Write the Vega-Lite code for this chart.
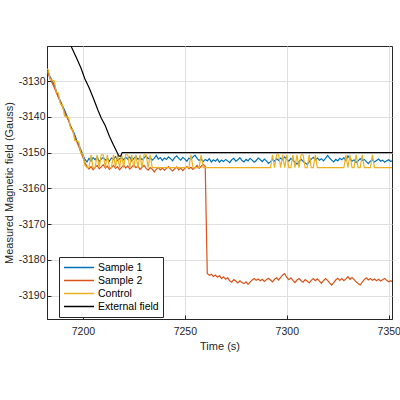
{
  "$schema": "https://vega.github.io/schema/vega-lite/v6.json",
  "width": 345,
  "height": 273,
  "autosize": {"type": "none"},
  "padding": {"left": 47, "top": 46, "right": 8, "bottom": 81},
  "background": "white",
  "config": {
    "view": {"stroke": "#262626", "strokeWidth": 1},
    "axis": {
      "domainColor": "#262626",
      "tickColor": "#262626",
      "labelColor": "#262626",
      "titleColor": "#262626",
      "labelFont": "Liberation Sans",
      "titleFont": "Liberation Sans",
      "labelFontSize": 10.5,
      "titleFontSize": 11,
      "titleFontWeight": "normal",
      "gridColor": "#DFDFDF",
      "tickSize": -4,
      "labelPadding": 6
    },
    "legend": {
      "labelFont": "Liberation Sans",
      "labelFontSize": 10.5,
      "labelColor": "#000000"
    }
  },
  "data": {
    "values": [
      {"t": 7182, "s1": -3127.0, "s2": -3126.8, "c": -3126.5},
      {"t": 7183, "s1": -3127.5, "s2": -3128.0, "c": -3126.8},
      {"t": 7184, "s1": -3128.9, "s2": -3129.4, "c": -3129.5},
      {"t": 7185, "s1": -3130.0, "s2": -3130.6, "c": -3129.8},
      {"t": 7186, "s1": -3131.2, "s2": -3131.9, "c": -3130.0},
      {"t": 7187, "s1": -3132.8, "s2": -3133.3, "c": -3133.2},
      {"t": 7188, "s1": -3134.4, "s2": -3134.6, "c": -3133.4},
      {"t": 7189, "s1": -3135.6, "s2": -3136.0, "c": -3136.5},
      {"t": 7190, "s1": -3136.9, "s2": -3137.2, "c": -3136.7},
      {"t": 7191, "s1": -3138.1, "s2": -3138.8, "c": -3139.8},
      {"t": 7192, "s1": -3139.5, "s2": -3140.0, "c": -3140.0},
      {"t": 7193, "s1": -3141.0, "s2": -3141.1, "c": -3140.2},
      {"t": 7194, "s1": -3142.6, "s2": -3142.8, "c": -3143.3},
      {"t": 7195, "s1": -3143.7, "s2": -3144.0, "c": -3143.5},
      {"t": 7196, "s1": -3145.0, "s2": -3145.6, "c": -3146.6},
      {"t": 7197, "s1": -3146.6, "s2": -3147.0, "c": -3146.8},
      {"t": 7198, "s1": -3147.8, "s2": -3148.3, "c": -3147.0},
      {"t": 7199, "s1": -3149.2, "s2": -3149.9, "c": -3150.2},
      {"t": 7200, "s1": -3150.6, "s2": -3151.3, "c": -3150.4},
      {"t": 7201, "s1": -3151.9, "s2": -3152.8, "c": -3153.6},
      {"t": 7202, "s1": -3152.6, "s2": -3153.9, "c": -3154.2},
      {"t": 7203, "s1": -3151.6, "s2": -3154.6, "c": -3154.2},
      {"t": 7204, "s1": -3152.3, "s2": -3153.9, "c": -3150.6},
      {"t": 7205, "s1": -3151.4, "s2": -3154.8, "c": -3154.2},
      {"t": 7206, "s1": -3152.0, "s2": -3154.1, "c": -3154.2},
      {"t": 7207, "s1": -3151.2, "s2": -3153.6, "c": -3150.6},
      {"t": 7208, "s1": -3152.5, "s2": -3154.5, "c": -3154.2},
      {"t": 7209, "s1": -3151.8, "s2": -3154.0, "c": -3150.6},
      {"t": 7210, "s1": -3151.3, "s2": -3153.4, "c": -3150.6},
      {"t": 7211, "s1": -3152.1, "s2": -3154.3, "c": -3154.2},
      {"t": 7212, "s1": -3151.6, "s2": -3153.8, "c": -3150.6},
      {"t": 7213, "s1": -3152.4, "s2": -3154.7, "c": -3154.2},
      {"t": 7214, "s1": -3151.5, "s2": -3154.2, "c": -3154.2},
      {"t": 7215, "s1": -3151.9, "s2": -3153.6, "c": -3150.6},
      {"t": 7216, "s1": -3151.1, "s2": -3154.4, "c": -3154.2},
      {"t": 7217, "s1": -3152.2, "s2": -3153.9, "c": -3150.6},
      {"t": 7218, "s1": -3151.7, "s2": -3154.8, "c": -3154.2},
      {"t": 7219, "s1": -3151.4, "s2": -3154.1, "c": -3150.6},
      {"t": 7220, "s1": -3152.0, "s2": -3153.5, "c": -3154.2},
      {"t": 7221, "s1": -3151.3, "s2": -3154.3, "c": -3150.6},
      {"t": 7222, "s1": -3151.8, "s2": -3153.7, "c": -3150.6},
      {"t": 7223, "s1": -3151.2, "s2": -3154.6, "c": -3154.2},
      {"t": 7224, "s1": -3152.3, "s2": -3154.0, "c": -3150.6},
      {"t": 7225, "s1": -3151.6, "s2": -3153.4, "c": -3154.2},
      {"t": 7226, "s1": -3151.0, "s2": -3154.2, "c": -3150.6},
      {"t": 7227, "s1": -3151.9, "s2": -3153.8, "c": -3154.2},
      {"t": 7228, "s1": -3151.4, "s2": -3154.7, "c": -3150.6},
      {"t": 7229, "s1": -3152.0, "s2": -3154.1, "c": -3154.2},
      {"t": 7230, "s1": -3151.5, "s2": -3153.6, "c": -3150.6},
      {"t": 7231, "s1": -3150.9, "s2": -3154.4, "c": -3150.6},
      {"t": 7232, "s1": -3151.7, "s2": -3154.9, "c": -3154.2},
      {"t": 7233, "s1": -3151.3, "s2": -3154.2, "c": -3150.6},
      {"t": 7234, "s1": -3152.1, "s2": -3154.6, "c": -3154.2},
      {"t": 7235, "s1": -3151.6, "s2": -3155.4, "c": -3154.2},
      {"t": 7236, "s1": -3150.8, "s2": -3154.7, "c": -3154.2},
      {"t": 7237, "s1": -3151.8, "s2": -3154.1, "c": -3154.2},
      {"t": 7238, "s1": -3151.4, "s2": -3154.8, "c": -3154.2},
      {"t": 7239, "s1": -3152.2, "s2": -3154.3, "c": -3154.2},
      {"t": 7240, "s1": -3151.5, "s2": -3154.9, "c": -3154.2},
      {"t": 7241, "s1": -3151.9, "s2": -3154.4, "c": -3154.2},
      {"t": 7242, "s1": -3151.2, "s2": -3153.9, "c": -3154.2},
      {"t": 7243, "s1": -3151.7, "s2": -3154.6, "c": -3154.2},
      {"t": 7244, "s1": -3152.3, "s2": -3155.1, "c": -3154.2},
      {"t": 7245, "s1": -3151.4, "s2": -3154.5, "c": -3154.2},
      {"t": 7246, "s1": -3150.9, "s2": -3154.0, "c": -3154.2},
      {"t": 7247, "s1": -3151.6, "s2": -3154.8, "c": -3154.2},
      {"t": 7248, "s1": -3152.1, "s2": -3154.3, "c": -3154.2},
      {"t": 7249, "s1": -3151.3, "s2": -3155.0, "c": -3154.2},
      {"t": 7250, "s1": -3151.8, "s2": -3154.4, "c": -3154.2},
      {"t": 7251, "s1": -3152.4, "s2": -3153.9, "c": -3154.2},
      {"t": 7252, "s1": -3151.5, "s2": -3154.5, "c": -3154.2},
      {"t": 7253, "s1": -3151.9, "s2": -3154.1, "c": -3150.6},
      {"t": 7254, "s1": -3151.2, "s2": -3154.7, "c": -3154.2},
      {"t": 7255, "s1": -3150.7, "s2": -3154.2, "c": -3154.2},
      {"t": 7256, "s1": -3151.6, "s2": -3153.6, "c": -3154.2},
      {"t": 7257, "s1": -3152.2, "s2": -3154.4, "c": -3154.2},
      {"t": 7258, "s1": -3151.8, "s2": -3153.8, "c": -3150.6},
      {"t": 7259, "s1": -3152.5, "s2": -3153.3, "c": -3154.2},
      {"t": 7260, "s1": -3151.9, "s2": -3153.9, "c": -3154.2},
      {"t": 7261, "s1": -3152.3, "s2": -3183.8, "c": -3154.2},
      {"t": 7262, "s1": -3151.7, "s2": -3184.3, "c": -3154.2},
      {"t": 7263, "s1": -3152.6, "s2": -3184.0, "c": -3154.2},
      {"t": 7264, "s1": -3152.0, "s2": -3184.6, "c": -3154.2},
      {"t": 7265, "s1": -3152.4, "s2": -3184.2, "c": -3154.2},
      {"t": 7266, "s1": -3151.8, "s2": -3184.8, "c": -3154.2},
      {"t": 7267, "s1": -3152.7, "s2": -3184.4, "c": -3154.2},
      {"t": 7268, "s1": -3152.1, "s2": -3185.2, "c": -3154.2},
      {"t": 7269, "s1": -3152.5, "s2": -3184.7, "c": -3154.2},
      {"t": 7270, "s1": -3151.9, "s2": -3185.4, "c": -3154.2},
      {"t": 7271, "s1": -3152.3, "s2": -3185.0, "c": -3154.2},
      {"t": 7272, "s1": -3152.8, "s2": -3185.8, "c": -3154.2},
      {"t": 7273, "s1": -3152.0, "s2": -3186.2, "c": -3154.2},
      {"t": 7274, "s1": -3151.6, "s2": -3185.5, "c": -3154.2},
      {"t": 7275, "s1": -3152.4, "s2": -3185.9, "c": -3154.2},
      {"t": 7276, "s1": -3152.0, "s2": -3186.4, "c": -3154.2},
      {"t": 7277, "s1": -3151.4, "s2": -3185.8, "c": -3154.2},
      {"t": 7278, "s1": -3152.2, "s2": -3186.3, "c": -3154.2},
      {"t": 7279, "s1": -3152.6, "s2": -3186.6, "c": -3154.2},
      {"t": 7280, "s1": -3151.9, "s2": -3186.1, "c": -3154.2},
      {"t": 7281, "s1": -3152.3, "s2": -3186.8, "c": -3154.2},
      {"t": 7282, "s1": -3151.6, "s2": -3186.2, "c": -3154.2},
      {"t": 7283, "s1": -3152.1, "s2": -3185.6, "c": -3154.2},
      {"t": 7284, "s1": -3152.7, "s2": -3185.2, "c": -3154.2},
      {"t": 7285, "s1": -3152.2, "s2": -3185.7, "c": -3154.2},
      {"t": 7286, "s1": -3151.5, "s2": -3185.3, "c": -3154.2},
      {"t": 7287, "s1": -3152.0, "s2": -3185.8, "c": -3154.2},
      {"t": 7288, "s1": -3152.5, "s2": -3185.4, "c": -3154.2},
      {"t": 7289, "s1": -3151.8, "s2": -3186.0, "c": -3154.2},
      {"t": 7290, "s1": -3152.3, "s2": -3185.5, "c": -3154.2},
      {"t": 7291, "s1": -3153.0, "s2": -3185.1, "c": -3154.2},
      {"t": 7292, "s1": -3152.6, "s2": -3185.6, "c": -3154.2},
      {"t": 7293, "s1": -3151.9, "s2": -3186.1, "c": -3150.6},
      {"t": 7294, "s1": -3152.4, "s2": -3185.4, "c": -3154.2},
      {"t": 7295, "s1": -3151.7, "s2": -3185.0, "c": -3150.6},
      {"t": 7296, "s1": -3152.2, "s2": -3185.6, "c": -3150.6},
      {"t": 7297, "s1": -3151.5, "s2": -3184.9, "c": -3154.2},
      {"t": 7298, "s1": -3152.0, "s2": -3184.2, "c": -3150.6},
      {"t": 7299, "s1": -3151.2, "s2": -3183.8, "c": -3154.2},
      {"t": 7300, "s1": -3151.8, "s2": -3184.9, "c": -3150.6},
      {"t": 7301, "s1": -3152.4, "s2": -3185.5, "c": -3154.2},
      {"t": 7302, "s1": -3151.6, "s2": -3185.0, "c": -3154.2},
      {"t": 7303, "s1": -3152.1, "s2": -3185.7, "c": -3150.6},
      {"t": 7304, "s1": -3152.7, "s2": -3186.3, "c": -3154.2},
      {"t": 7305, "s1": -3153.2, "s2": -3185.6, "c": -3150.6},
      {"t": 7306, "s1": -3152.5, "s2": -3185.2, "c": -3154.2},
      {"t": 7307, "s1": -3151.9, "s2": -3185.8, "c": -3150.6},
      {"t": 7308, "s1": -3152.4, "s2": -3186.2, "c": -3150.6},
      {"t": 7309, "s1": -3152.9, "s2": -3185.5, "c": -3154.2},
      {"t": 7310, "s1": -3153.3, "s2": -3185.9, "c": -3154.2},
      {"t": 7311, "s1": -3152.6, "s2": -3186.4, "c": -3150.6},
      {"t": 7312, "s1": -3151.8, "s2": -3185.7, "c": -3154.2},
      {"t": 7313, "s1": -3151.3, "s2": -3185.2, "c": -3154.2},
      {"t": 7314, "s1": -3152.0, "s2": -3185.8, "c": -3150.6},
      {"t": 7315, "s1": -3151.5, "s2": -3185.3, "c": -3154.2},
      {"t": 7316, "s1": -3152.1, "s2": -3185.9, "c": -3154.2},
      {"t": 7317, "s1": -3151.7, "s2": -3186.5, "c": -3154.2},
      {"t": 7318, "s1": -3152.3, "s2": -3185.8, "c": -3154.2},
      {"t": 7319, "s1": -3151.6, "s2": -3185.2, "c": -3154.2},
      {"t": 7320, "s1": -3150.8, "s2": -3185.7, "c": -3154.2},
      {"t": 7321, "s1": -3151.5, "s2": -3186.4, "c": -3154.2},
      {"t": 7322, "s1": -3152.1, "s2": -3187.0, "c": -3154.2},
      {"t": 7323, "s1": -3152.6, "s2": -3186.3, "c": -3154.2},
      {"t": 7324, "s1": -3151.9, "s2": -3185.6, "c": -3154.2},
      {"t": 7325, "s1": -3152.3, "s2": -3185.1, "c": -3154.2},
      {"t": 7326, "s1": -3151.6, "s2": -3185.7, "c": -3154.2},
      {"t": 7327, "s1": -3152.0, "s2": -3185.2, "c": -3154.2},
      {"t": 7328, "s1": -3151.4, "s2": -3185.8, "c": -3154.2},
      {"t": 7329, "s1": -3152.2, "s2": -3185.3, "c": -3150.6},
      {"t": 7330, "s1": -3150.9, "s2": -3184.7, "c": -3154.2},
      {"t": 7331, "s1": -3151.7, "s2": -3185.4, "c": -3150.6},
      {"t": 7332, "s1": -3152.4, "s2": -3184.9, "c": -3154.2},
      {"t": 7333, "s1": -3152.0, "s2": -3185.5, "c": -3154.2},
      {"t": 7334, "s1": -3152.8, "s2": -3186.1, "c": -3150.6},
      {"t": 7335, "s1": -3152.3, "s2": -3186.6, "c": -3154.2},
      {"t": 7336, "s1": -3151.7, "s2": -3187.0, "c": -3154.2},
      {"t": 7337, "s1": -3152.2, "s2": -3186.2, "c": -3150.6},
      {"t": 7338, "s1": -3151.9, "s2": -3185.5, "c": -3154.2},
      {"t": 7339, "s1": -3152.5, "s2": -3185.0, "c": -3154.2},
      {"t": 7340, "s1": -3153.1, "s2": -3185.6, "c": -3154.2},
      {"t": 7341, "s1": -3152.4, "s2": -3185.2, "c": -3154.2},
      {"t": 7342, "s1": -3152.0, "s2": -3185.7, "c": -3150.6},
      {"t": 7343, "s1": -3152.6, "s2": -3185.3, "c": -3154.2},
      {"t": 7344, "s1": -3152.2, "s2": -3185.8, "c": -3154.2},
      {"t": 7345, "s1": -3151.8, "s2": -3185.4, "c": -3154.2},
      {"t": 7346, "s1": -3152.4, "s2": -3185.9, "c": -3154.2},
      {"t": 7347, "s1": -3152.1, "s2": -3185.5, "c": -3154.2},
      {"t": 7348, "s1": -3152.7, "s2": -3185.2, "c": -3154.2},
      {"t": 7349, "s1": -3152.3, "s2": -3185.7, "c": -3154.2},
      {"t": 7350, "s1": -3152.0, "s2": -3186.1, "c": -3154.2},
      {"t": 7351, "s1": -3152.5, "s2": -3185.8, "c": -3154.2},
      {"t": 7352, "s1": -3152.2, "s2": -3186.2, "c": -3154.2}
    ]
  },
  "encoding": {
    "x": {
      "field": "t",
      "type": "quantitative",
      "scale": {"domain": [7182.4, 7351.6], "nice": false, "zero": false},
      "axis": {"values": [7200, 7250, 7300, 7350], "title": "Time (s)", "labelExpr": "'' + datum.value", "labelPadding": 11, "titlePadding": 4}
    },
    "color": {
      "type": "nominal",
      "scale": {
        "domain": ["Sample 1", "Sample 2", "Control", "External field"],
        "range": ["#0072BD", "#D95319", "#EDB120", "#000000"]
      },
      "legend": {
        "title": null,
        "orient": "none",
        "legendX": 12,
        "legendY": 211,
        "symbolType": "stroke",
        "symbolSize": 900,
        "symbolStrokeWidth": 1.5,
        "clipHeight": 13,
        "rowPadding": 0,
        "labelOffset": 3,
        "padding": 4,
        "strokeColor": "#262626",
        "fillColor": "#FFFFFF",
        "cornerRadius": 0
      }
    }
  },
  "layer": [
    {
      "mark": {"type": "line", "strokeWidth": 1.2, "clip": true},
      "encoding": {
        "y": {
          "field": "s1",
          "type": "quantitative",
          "scale": {"domain": [-3196.5, -3120.2], "nice": false, "zero": false},
          "axis": {"values": [-3190, -3180, -3170, -3160, -3150, -3140, -3130], "title": "Measured Magnetic field (Gauss)", "labelExpr": "'' + datum.value"}
        },
        "color": {"datum": "Sample 1"}
      }
    },
    {
      "mark": {"type": "line", "strokeWidth": 1.2, "clip": true},
      "encoding": {
        "y": {"field": "s2", "type": "quantitative"},
        "color": {"datum": "Sample 2"}
      }
    },
    {
      "mark": {"type": "line", "strokeWidth": 1.2, "clip": true},
      "encoding": {
        "y": {"field": "c", "type": "quantitative"},
        "color": {"datum": "Control"}
      }
    },
    {
      "data": {
        "values": [
          {"t": 7190.0, "v": -3114.5},
          {"t": 7194.5, "v": -3120.6},
          {"t": 7197.0, "v": -3123.7},
          {"t": 7199.0, "v": -3126.3},
          {"t": 7201.0, "v": -3129.4},
          {"t": 7203.0, "v": -3131.8},
          {"t": 7205.0, "v": -3134.6},
          {"t": 7207.5, "v": -3138.3},
          {"t": 7209.0, "v": -3140.3},
          {"t": 7211.0, "v": -3142.5},
          {"t": 7213.0, "v": -3145.4},
          {"t": 7215.0, "v": -3147.9},
          {"t": 7216.5, "v": -3149.6},
          {"t": 7217.7, "v": -3151.0},
          {"t": 7218.5, "v": -3151.0},
          {"t": 7219.3, "v": -3150.0},
          {"t": 7352.0, "v": -3150.0}
        ]
      },
      "mark": {"type": "line", "strokeWidth": 1.2, "clip": true},
      "encoding": {
        "y": {"field": "v", "type": "quantitative"},
        "color": {"datum": "External field"}
      }
    }
  ]
}
